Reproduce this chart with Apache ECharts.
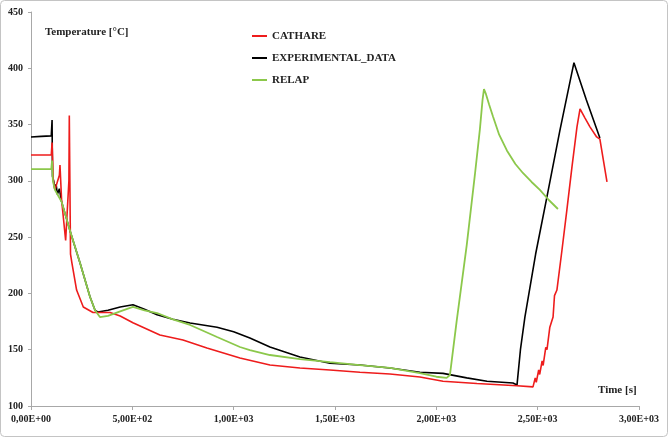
<!DOCTYPE html>
<html>
<head>
<meta charset="utf-8">
<script src="https://cdn.jsdelivr.net/npm/echarts@6/dist/echarts.min.js"></script>
<style>
html,body{margin:0;padding:0;background:#fff;}
#c{width:668px;height:437px;}
</style>
</head>
<body>
<div id="c"></div>
<script>
// ---- data (time [s], temperature [°C]) ----
const seriesNames = ['CATHARE', 'EXPERIMENTAL_DATA', 'RELAP'];

const cathareT = [0, 100, 104, 110, 118, 140, 143, 151, 171, 187, 189, 195, 202, 225, 258, 306, 390, 440, 503, 636, 750, 868, 1031, 1179, 1327, 1475, 1623, 1771, 1919, 2033, 2200, 2398, 2477, 2488, 2493, 2505, 2510, 2522, 2527, 2540, 2546, 2560, 2576, 2583, 2595, 2620, 2644, 2669, 2694, 2709, 2733, 2758, 2791, 2807, 2842];
const cathareV = [323, 323, 334, 300, 292, 305, 314, 283, 247, 300, 358, 235, 227, 203, 188, 183, 183, 180, 174, 163, 158.6, 151.5, 142.6, 136.4, 133.8, 132, 130, 128.4, 125.8, 122, 120, 118, 117, 125, 121, 132, 128, 140, 136, 152, 150, 170, 179, 198, 203, 238.6, 274, 312, 348, 364, 356, 348, 339, 337, 299];

const expT = [0, 50, 100, 104, 106, 112, 118, 124, 130, 140, 150, 192, 242, 291, 316, 330, 380, 440, 503, 560, 622, 700, 785, 918, 1000, 1080, 1179, 1327, 1475, 1623, 1771, 1919, 2033, 2150, 2250, 2378, 2398, 2415, 2437, 2490, 2546, 2610, 2679, 2740, 2807];
const expV = [339, 339.5, 340, 354, 304, 300, 292, 297, 288, 293, 282, 256, 227, 197, 185, 183.5, 185, 188, 190, 186, 181, 177, 173.7, 170, 166, 160.4, 152.4, 143.5, 138, 136.4, 133.8, 130, 129, 125, 122, 120.4, 118.6, 150, 179, 235, 286, 345, 405, 372, 338];

const relapT = [0, 100, 104, 108, 118, 151, 192, 242, 291, 316, 340, 380, 440, 503, 560, 622, 700, 785, 918, 1031, 1080, 1179, 1327, 1475, 1623, 1771, 1919, 2000, 2051, 2067, 2100, 2150, 2190, 2215, 2228, 2235, 2245, 2260, 2280, 2310, 2348, 2390, 2427, 2470, 2511, 2555, 2600];
const relapV = [310.5, 310.5, 318, 300, 292, 281.5, 256, 227, 197, 185, 179, 180, 184, 188, 185, 182.6, 177, 172, 161.3, 152.4, 149.7, 145.3, 141.7, 139, 136.4, 133.8, 129.3, 126, 125, 127.5, 175, 243, 305, 346, 372, 381.5, 377, 368, 357, 341, 327, 315, 307, 299, 292, 283, 275];

const xTicks = {min: 0, max: 3000, interval: 500};
const yTicks = {min: 100, max: 450, interval: 50};

// ---- chart ----
const zip = (a, b) => a.map((t, i) => [t, b[i]]);
const serif = '"Liberation Serif", "DejaVu Serif", serif';
const colors = ['#ee1c1c', '#000000', '#8cc84b'];
const fmtE = v => {
  const s = Number(v).toExponential(2);
  const [m, e] = s.split('e');
  const sign = e[0] === '-' ? '-' : '+';
  const d = e.replace(/[+-]/, '').padStart(2, '0');
  return m.replace('.', ',') + 'E' + sign + d;
};

const chart = echarts.init(document.getElementById('c'), null, {renderer: 'canvas'});
chart.setOption({
  animation: false,
  backgroundColor: '#ffffff',
  grid: {left: 31, right: 29, top: 12, bottom: 31, containLabel: false},
  xAxis: {
    type: 'value', min: xTicks.min, max: xTicks.max, interval: xTicks.interval,
    splitLine: {show: false},
    axisLine: {lineStyle: {color: '#a8a8a8', width: 1}},
    axisTick: {show: true, length: 4, lineStyle: {color: '#a8a8a8'}},
    axisLabel: {formatter: fmtE, fontFamily: serif, fontWeight: 'bold', fontSize: 10, color: '#222', margin: 8}
  },
  yAxis: {
    type: 'value', min: yTicks.min, max: yTicks.max, interval: yTicks.interval,
    splitLine: {show: false},
    axisLine: {show: true, lineStyle: {color: '#a8a8a8', width: 1}},
    axisTick: {show: true, length: 3, lineStyle: {color: '#a8a8a8'}},
    axisLabel: {fontFamily: serif, fontWeight: 'bold', fontSize: 10, color: '#222', margin: 8}
  },
  legend: {
    orient: 'vertical', left: 247, top: 20,
    icon: 'rect', itemWidth: 15, itemHeight: 2, itemGap: 0,
    textStyle: {fontFamily: serif, fontWeight: 'bold', fontSize: 11, color: '#222', lineHeight: 22},
    data: seriesNames
  },
  graphic: [
    {type: 'rect', silent: true, z: -10, shape: {x: 0.5, y: 0.5, width: 667, height: 436, r: 4}, style: {fill: 'none', stroke: '#c4c4c4', lineWidth: 1}},
    {type: 'text', left: 45, top: 27, style: {text: 'Temperature [°C]', font: 'bold 11px ' + serif, fill: '#222'}},
    {type: 'text', left: 598, top: 385, style: {text: 'Time [s]', font: 'bold 11px ' + serif, fill: '#222'}}
  ],
  series: [
    {name: seriesNames[0], type: 'line', data: zip(cathareT, cathareV), showSymbol: false, symbol: 'none', z: 3,
     lineStyle: {color: colors[0], width: 1.6}, itemStyle: {color: colors[0]}},
    {name: seriesNames[1], type: 'line', data: zip(expT, expV), showSymbol: false, symbol: 'none', z: 2,
     lineStyle: {color: colors[1], width: 1.6}, itemStyle: {color: colors[1]}},
    {name: seriesNames[2], type: 'line', data: zip(relapT, relapV), showSymbol: false, symbol: 'none', z: 4,
     lineStyle: {color: colors[2], width: 1.8}, itemStyle: {color: colors[2]}}
  ]
});
</script>
</body>
</html>
